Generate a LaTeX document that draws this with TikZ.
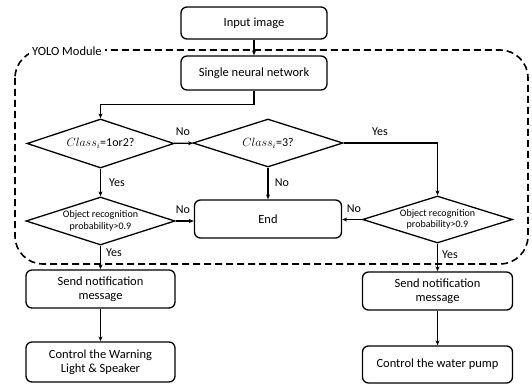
\documentclass[tikz,border=0pt]{standalone}
\usepackage{fontspec}
\setmainfont{Carlito}
\usetikzlibrary{shapes.geometric,arrows.meta}
\begin{document}
\begin{tikzpicture}[x=1pt,y=-1pt,
  box/.style={draw,rounded corners=6pt,line width=1.3pt,align=center,font=\fontsize{12.5}{14}\selectfont,inner sep=0pt},
  dia/.style={draw,diamond,line width=1.3pt,align=center,inner sep=0pt,shape aspect=3.1},
  arr/.style={line width=1.1pt,-{Stealth[length=5pt,width=4pt]}},
  lbl/.style={font=\fontsize{12}{14}\selectfont,inner sep=0pt},
  yolo/.style={dashed,dash pattern=on 7pt off 4pt,line width=1.6pt}]
\useasboundingbox (0,0) rectangle (532,385);
% YOLO module container
\draw[yolo,rounded corners=28pt] (15,50) rectangle (528,264);
\node[fill=white,anchor=west,inner sep=3pt,font=\fontsize{12.5}{14}\selectfont] (yololbl) at (29,51) {YOLO Module};
% boxes
\node[box,minimum width=146pt,minimum height=32pt] (inp) at (254,23) {Input image};
\node[box,minimum width=146pt,minimum height=34pt] (snn) at (254,73) {Single neural network};
\node[dia,minimum width=147pt,minimum height=49pt,font=\fontsize{12}{14}\selectfont] (d1) at (100.5,143.5) {$Class_i$=1or2?};
\node[dia,minimum width=150pt,minimum height=48pt,font=\fontsize{12}{14}\selectfont] (d2) at (268,143) {$Class_i$=3?};
\node[box,minimum width=147pt,minimum height=38pt] (end) at (268,219) {End};
\node[dia,minimum width=149pt,minimum height=48pt,font=\fontsize{10}{11.5}\selectfont] (d3) at (100.5,221) {Object recognition\\probability>0.9};
\node[dia,minimum width=150pt,minimum height=47pt,font=\fontsize{10}{11.5}\selectfont] (d4) at (437.5,219.5) {Object recognition\\probability>0.9};
\node[box,minimum width=149pt,minimum height=38pt] (sn1) at (100.5,289) {Send notification\\message};
\node[box,minimum width=149pt,minimum height=40pt] (cw) at (100.5,362) {Control the Warning\\Light \& Speaker};
\node[box,minimum width=150pt,minimum height=38pt] (sn2) at (437.5,291) {Send notification\\message};
\node[box,minimum width=150pt,minimum height=37pt] (cwp) at (437.5,364.5) {Control the water pump};
% connectors
\draw[arr] (inp) -- (snn);
\draw[arr] (snn.south) -- ++(0,14) -| (d1.north);
\draw[arr] (d1) -- (d2);
\draw[arr] (d2.east) -| (d4.north);
\draw[arr] (d2) -- (end);
\draw[arr] (d1) -- (d3);
\draw[arr] (d3.east) -- (end.west |- d3.east);
\draw[arr] (d4.west) -- (end.east |- d4.west);
\draw[arr] (d3) -- (sn1);
\draw[arr] (d4) -- (sn2);
\draw[arr] (sn1) -- (cw);
\draw[arr] (sn2) -- (cwp);
% labels
\node[lbl] (l1) at (183,132) {No};
\node[lbl] (l2) at (380,132) {Yes};
\node[lbl] (l3) at (282,183) {No};
\node[lbl] (l4) at (117,183) {Yes};
\node[lbl] (l5) at (183,210) {No};
\node[lbl] (l6) at (354,209) {No};
\node[lbl] (l7) at (114,253) {Yes};
\node[lbl] (l8) at (450,255) {Yes};
\end{tikzpicture}
\end{document}
